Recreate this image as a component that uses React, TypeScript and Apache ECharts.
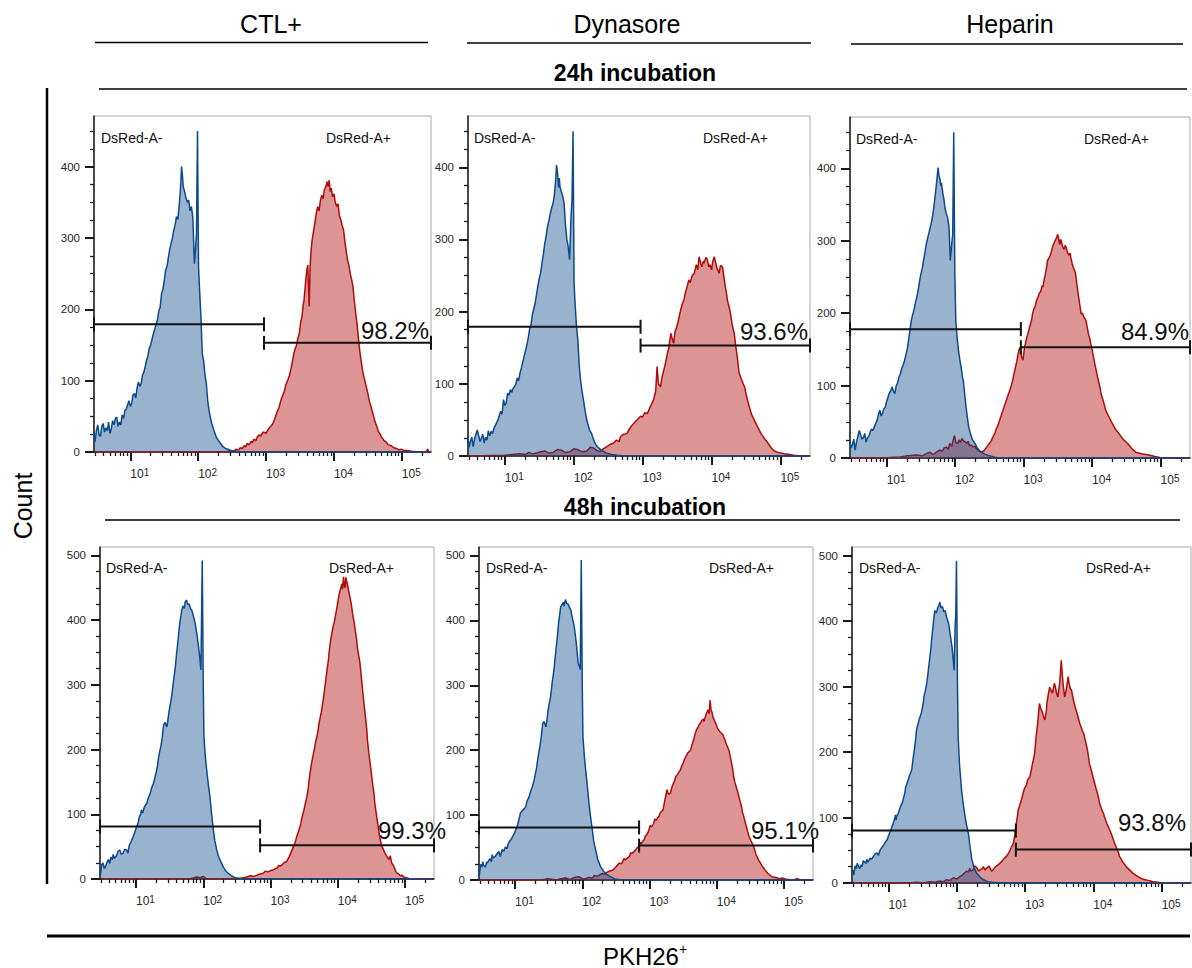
import React, { useEffect, useRef } from 'react';
import * as echarts from 'echarts';

const FONT = '"Liberation Sans", Arial, Helvetica, sans-serif';

// ---------- texts ----------
const COLUMN_TITLES = ['CTL+', 'Dynasore', 'Heparin'];
const ROW_TITLES = ['24h incubation', '48h incubation'];
const NEG_GATE_NAME = 'DsRed-A-';
const POS_GATE_NAME = 'DsRed-A+';
const Y_TITLE = 'Count';
const X_TITLE_MAIN = 'PKH26';
const X_TITLE_SUP = '+';
const PCT_LABELS = ['98.2%', '93.6%', '84.9%', '99.3%', '95.1%', '93.8%'];

// ---------- axes (x in log10 of DsRed-A intensity) ----------
const X_MIN = 0.465;
const X_MAX = 5.43;
const X_MAJOR_EXP = [1, 2, 3, 4, 5];
const X_MINOR_MULT = [2, 3, 4, 5, 6, 7, 8, 9];
const X_DECADES = [0, 1, 2, 3, 4, 5];
const Y_MAX_24 = 471;
const Y_MAX_48 = 513;
const Y_MAJOR_24 = [0, 100, 200, 300, 400];
const Y_MINOR_24 = [25, 50, 75, 125, 150, 175, 225, 250, 275, 325, 350, 375, 425, 450];
const Y_MAJOR_48 = [0, 100, 200, 300, 400, 500];
const Y_MINOR_48 = [25, 50, 75, 125, 150, 175, 225, 250, 275, 325, 350, 375, 425, 450, 475];

// ---------- histograms: [log10 intensity, count] ----------
// 24h CTL+
const CTL24_NEG = [[0.465,26],[0.48,14],[0.50,30],[0.52,38],[0.54,24],[0.56,22],[0.58,36],[0.60,40],[0.62,28],[0.64,34],[0.66,30],[0.68,42],[0.70,26],[0.72,33],[0.74,44],[0.76,38],[0.78,47],[0.80,49],[0.82,36],[0.84,42],[0.86,38],[0.88,52],[0.90,47],[0.92,58],[0.94,60],[0.96,66],[0.98,72],[1.00,64],[1.02,68],[1.04,80],[1.06,82],[1.08,76],[1.10,90],[1.12,98],[1.14,92],[1.16,96],[1.18,108],[1.20,112],[1.22,120],[1.24,129],[1.26,135],[1.28,146],[1.30,150],[1.32,158],[1.34,166],[1.36,172],[1.38,180],[1.40,185],[1.42,198],[1.44,203],[1.46,222],[1.48,228],[1.50,240],[1.52,255],[1.54,260],[1.56,272],[1.58,284],[1.60,292],[1.62,300],[1.64,311],[1.66,318],[1.68,330],[1.70,326],[1.72,345],[1.74,370],[1.755,400],[1.77,385],[1.78,372],[1.80,365],[1.82,356],[1.84,350],[1.86,353],[1.88,338],[1.90,344],[1.92,330],[1.945,264],[1.965,290],[1.975,306],[1.99,450],[2.005,260],[2.02,228],[2.04,190],[2.06,138],[2.08,128],[2.10,108],[2.12,96],[2.14,72],[2.16,58],[2.18,48],[2.20,40],[2.22,34],[2.24,28],[2.27,20],[2.30,16],[2.33,12],[2.36,8],[2.40,5],[2.44,4],[2.48,2],[2.55,1],[2.60,0],[5.43,0]];
const CTL24_POS = [[0.465,0],[2.40,0],[2.48,2],[2.52,1],[2.56,4],[2.60,3],[2.62,6],[2.65,5],[2.68,9],[2.70,7],[2.72,12],[2.75,10],[2.78,15],[2.80,13],[2.82,18],[2.85,16],[2.87,21],[2.90,24],[2.92,22],[2.95,27],[2.97,28],[3.00,26],[3.02,30],[3.05,34],[3.07,36],[3.10,40],[3.12,44],[3.14,50],[3.17,58],[3.19,62],[3.22,73],[3.24,78],[3.27,85],[3.29,94],[3.32,101],[3.34,106],[3.37,118],[3.39,128],[3.41,138],[3.43,145],[3.45,150],[3.47,160],[3.49,166],[3.51,182],[3.53,190],[3.545,205],[3.56,213],[3.58,236],[3.60,255],[3.615,262],[3.635,204],[3.65,262],[3.665,285],[3.68,298],[3.70,310],[3.72,322],[3.74,335],[3.76,344],[3.78,338],[3.80,352],[3.82,360],[3.84,355],[3.86,368],[3.88,372],[3.90,379],[3.915,372],[3.93,381],[3.945,365],[3.96,370],[3.98,358],[4.00,362],[4.02,350],[4.04,344],[4.06,348],[4.08,332],[4.10,326],[4.12,318],[4.14,312],[4.16,296],[4.18,282],[4.20,269],[4.22,262],[4.24,250],[4.26,242],[4.28,232],[4.30,212],[4.32,195],[4.34,180],[4.36,160],[4.38,142],[4.40,128],[4.42,115],[4.44,106],[4.46,98],[4.48,90],[4.50,82],[4.52,72],[4.55,62],[4.58,52],[4.60,44],[4.63,36],[4.65,30],[4.68,25],[4.70,21],[4.74,16],[4.77,14],[4.80,10],[4.84,9],[4.88,6],[4.92,5],[4.96,3],[4.99,4],[5.03,2],[5.08,2],[5.14,1],[5.25,0],[5.36,0],[5.38,4],[5.40,0],[5.43,0]];
// 24h Dynasore
const DYN24_NEG = [[0.465,27],[0.48,12],[0.50,20],[0.52,26],[0.54,13],[0.56,24],[0.58,30],[0.60,36],[0.62,28],[0.64,20],[0.66,25],[0.68,30],[0.70,18],[0.72,26],[0.74,22],[0.76,35],[0.78,28],[0.80,34],[0.82,31],[0.84,38],[0.86,42],[0.88,46],[0.90,50],[0.92,56],[0.94,62],[0.96,58],[0.98,78],[1.00,70],[1.02,74],[1.04,87],[1.06,84],[1.08,92],[1.10,88],[1.12,94],[1.14,96],[1.16,100],[1.18,108],[1.20,104],[1.22,115],[1.24,122],[1.26,130],[1.28,138],[1.30,146],[1.32,154],[1.34,164],[1.36,176],[1.38,182],[1.40,196],[1.42,204],[1.44,212],[1.46,224],[1.48,236],[1.50,246],[1.52,254],[1.54,268],[1.56,280],[1.58,295],[1.60,305],[1.62,318],[1.64,326],[1.66,336],[1.68,344],[1.70,350],[1.72,362],[1.74,385],[1.75,403],[1.765,392],[1.78,372],[1.79,385],[1.80,373],[1.82,366],[1.84,360],[1.86,350],[1.88,320],[1.90,300],[1.92,290],[1.94,272],[1.96,330],[1.975,355],[1.99,450],[2.005,240],[2.02,210],[2.04,180],[2.06,160],[2.08,125],[2.10,104],[2.12,90],[2.14,78],[2.16,66],[2.18,54],[2.20,46],[2.23,36],[2.26,31],[2.29,22],[2.32,16],[2.34,13],[2.40,8],[2.48,4],[2.55,2],[2.63,1],[2.75,0],[5.43,0]];
const DYN24_POS = [[0.465,0],[1.0,1],[1.10,2],[1.22,3],[1.30,2],[1.35,5],[1.40,3],[1.46,4],[1.52,6],[1.58,7],[1.64,4],[1.70,5],[1.76,9],[1.82,8],[1.88,5],[1.95,6],[2.00,10],[2.05,9],[2.12,6],[2.19,7],[2.24,12],[2.29,11],[2.33,8],[2.38,6],[2.43,10],[2.48,13],[2.53,16],[2.58,18],[2.62,22],[2.66,20],[2.68,27],[2.72,30],[2.77,31],[2.80,36],[2.84,42],[2.87,45],[2.90,48],[2.94,52],[2.97,55],[3.00,54],[3.03,60],[3.07,59],[3.10,66],[3.13,72],[3.16,78],[3.19,90],[3.21,124],[3.23,100],[3.26,96],[3.28,108],[3.31,120],[3.33,128],[3.36,142],[3.38,150],[3.41,170],[3.43,162],[3.45,156],[3.47,172],[3.50,180],[3.52,188],[3.53,193],[3.56,205],[3.58,212],[3.60,216],[3.62,226],[3.65,236],[3.67,244],[3.69,240],[3.72,250],[3.75,253],[3.77,262],[3.78,265],[3.80,258],[3.82,276],[3.84,268],[3.86,262],[3.88,270],[3.89,267],[3.92,275],[3.94,272],[3.96,262],[3.98,265],[4.00,258],[4.02,270],[4.04,276],[4.06,268],[4.08,260],[4.10,256],[4.11,253],[4.13,264],[4.16,262],[4.18,248],[4.20,235],[4.22,224],[4.23,216],[4.26,205],[4.28,195],[4.30,182],[4.33,170],[4.35,154],[4.37,140],[4.39,124],[4.40,115],[4.42,110],[4.44,105],[4.46,100],[4.48,96],[4.51,82],[4.55,68],[4.58,58],[4.62,50],[4.66,42],[4.72,31],[4.77,24],[4.82,18],[4.86,12],[4.91,7],[4.96,5],[5.06,3],[5.13,2],[5.20,1],[5.30,0],[5.43,0]];
// 24h Heparin
const HEP24_NEG = [[0.465,24],[0.48,14],[0.50,18],[0.52,26],[0.54,11],[0.56,22],[0.58,30],[0.60,38],[0.62,32],[0.64,26],[0.66,28],[0.68,34],[0.70,22],[0.72,28],[0.74,30],[0.76,36],[0.78,40],[0.80,38],[0.82,43],[0.84,48],[0.86,52],[0.88,60],[0.90,66],[0.92,58],[0.94,62],[0.96,68],[0.98,70],[1.00,78],[1.02,84],[1.04,90],[1.06,93],[1.08,98],[1.10,92],[1.12,89],[1.14,100],[1.16,104],[1.18,112],[1.20,116],[1.22,124],[1.24,128],[1.26,134],[1.28,142],[1.30,150],[1.32,162],[1.34,176],[1.36,190],[1.38,198],[1.40,205],[1.42,214],[1.44,222],[1.46,232],[1.48,244],[1.50,254],[1.52,262],[1.54,274],[1.56,284],[1.58,296],[1.60,304],[1.62,312],[1.64,320],[1.66,328],[1.68,340],[1.70,355],[1.72,372],[1.74,390],[1.75,401],[1.765,390],[1.78,385],[1.79,376],[1.80,380],[1.82,366],[1.84,355],[1.85,346],[1.87,338],[1.89,332],[1.91,320],[1.93,273],[1.95,295],[1.965,309],[1.98,450],[1.995,260],[2.01,190],[2.03,165],[2.05,148],[2.07,135],[2.09,124],[2.11,110],[2.12,107],[2.14,88],[2.16,70],[2.18,55],[2.20,42],[2.22,35],[2.25,26],[2.29,20],[2.33,13],[2.38,8],[2.44,5],[2.50,3],[2.58,1],[2.65,0],[5.43,0]];
const HEP24_POS = [[0.465,0],[0.95,0],[1.10,1],[1.19,1],[1.30,3],[1.44,4],[1.52,3],[1.58,6],[1.63,8],[1.67,5],[1.70,6],[1.74,9],[1.78,11],[1.81,9],[1.84,14],[1.87,15],[1.90,12],[1.92,20],[1.95,16],[1.97,24],[1.99,31],[2.01,22],[2.04,20],[2.06,25],[2.08,22],[2.10,27],[2.12,24],[2.15,22],[2.17,20],[2.19,23],[2.21,17],[2.24,18],[2.26,15],[2.29,16],[2.31,13],[2.34,10],[2.38,8],[2.42,10],[2.46,15],[2.50,20],[2.53,24],[2.55,29],[2.58,34],[2.60,40],[2.62,44],[2.65,52],[2.67,58],[2.70,66],[2.72,72],[2.75,80],[2.77,86],[2.80,94],[2.82,100],[2.84,107],[2.86,116],[2.88,125],[2.90,133],[2.92,144],[2.935,150],[2.95,153],[2.97,140],[2.99,135],[3.01,150],[3.03,160],[3.05,168],[3.06,171],[3.08,178],[3.10,185],[3.12,192],[3.13,199],[3.15,206],[3.17,210],[3.19,218],[3.21,222],[3.23,228],[3.25,230],[3.27,238],[3.28,236],[3.30,246],[3.32,255],[3.34,266],[3.35,273],[3.37,276],[3.39,280],[3.41,286],[3.42,291],[3.44,296],[3.46,300],[3.48,304],[3.50,309],[3.52,298],[3.53,295],[3.54,302],[3.55,300],[3.57,292],[3.59,288],[3.61,294],[3.62,291],[3.64,284],[3.66,280],[3.68,283],[3.69,277],[3.71,268],[3.73,262],[3.75,258],[3.76,254],[3.78,238],[3.80,225],[3.82,212],[3.84,199],[3.86,200],[3.88,195],[3.90,192],[3.91,190],[3.93,180],[3.95,170],[3.97,164],[3.98,158],[4.00,150],[4.02,140],[4.04,130],[4.06,121],[4.08,112],[4.10,104],[4.12,96],[4.13,89],[4.16,80],[4.20,66],[4.24,58],[4.30,47],[4.34,40],[4.39,34],[4.45,26],[4.52,20],[4.58,13],[4.64,8],[4.72,6],[4.83,4],[4.92,2],[5.02,0],[5.43,0]];
// 48h CTL+
const CTL48_NEG = [[0.465,14],[0.47,6],[0.49,22],[0.51,25],[0.53,16],[0.55,20],[0.57,26],[0.59,30],[0.61,24],[0.63,34],[0.65,30],[0.66,38],[0.68,32],[0.71,36],[0.73,42],[0.76,45],[0.78,38],[0.81,40],[0.83,46],[0.86,45],[0.88,40],[0.90,52],[0.92,56],[0.94,61],[0.96,66],[0.98,72],[1.00,78],[1.03,86],[1.05,96],[1.07,100],[1.08,107],[1.10,102],[1.12,110],[1.14,114],[1.16,117],[1.18,124],[1.21,132],[1.23,140],[1.26,148],[1.28,156],[1.30,165],[1.32,175],[1.33,184],[1.35,196],[1.37,205],[1.39,218],[1.41,238],[1.43,242],[1.46,235],[1.48,250],[1.49,258],[1.51,270],[1.53,282],[1.55,300],[1.58,323],[1.60,345],[1.63,374],[1.65,395],[1.68,415],[1.70,422],[1.72,418],[1.73,428],[1.75,431],[1.77,424],[1.79,425],[1.81,418],[1.83,415],[1.85,408],[1.88,395],[1.90,382],[1.93,359],[1.95,340],[1.965,323],[1.985,492],[2.00,300],[2.01,220],[2.03,190],[2.05,169],[2.08,142],[2.10,127],[2.12,104],[2.15,76],[2.17,60],[2.20,45],[2.23,34],[2.27,25],[2.30,18],[2.34,12],[2.37,9],[2.42,5],[2.47,2],[2.60,0],[5.43,0]];
const CTL48_POS = [[0.465,0],[1.80,0],[1.90,3],[1.95,2],[2.00,4],[2.05,0],[2.30,0],[2.55,1],[2.60,2],[2.65,3],[2.70,5],[2.75,4],[2.80,6],[2.82,7],[2.86,8],[2.89,9],[2.92,12],[2.96,11],[3.00,13],[3.04,14],[3.07,16],[3.10,17],[3.12,21],[3.14,20],[3.17,22],[3.19,24],[3.21,26],[3.24,27],[3.26,31],[3.28,35],[3.30,40],[3.32,45],[3.34,50],[3.36,55],[3.38,62],[3.39,66],[3.41,72],[3.43,78],[3.45,85],[3.46,91],[3.48,100],[3.50,108],[3.52,118],[3.54,127],[3.56,140],[3.57,150],[3.59,165],[3.61,179],[3.63,190],[3.65,200],[3.67,212],[3.69,220],[3.71,232],[3.72,240],[3.74,250],[3.76,261],[3.78,275],[3.80,290],[3.82,306],[3.84,323],[3.86,338],[3.87,350],[3.89,366],[3.91,379],[3.93,390],[3.95,398],[3.97,410],[3.98,415],[4.00,428],[4.02,440],[4.04,448],[4.06,456],[4.07,448],[4.085,467],[4.10,452],[4.11,450],[4.12,466],[4.13,461],[4.15,452],[4.16,445],[4.18,436],[4.20,425],[4.22,410],[4.24,398],[4.26,384],[4.28,370],[4.29,358],[4.31,346],[4.33,333],[4.35,312],[4.37,290],[4.39,270],[4.41,251],[4.43,232],[4.44,215],[4.46,196],[4.48,179],[4.50,162],[4.52,145],[4.54,130],[4.55,117],[4.57,102],[4.59,88],[4.61,74],[4.63,61],[4.65,52],[4.68,45],[4.70,40],[4.73,35],[4.76,30],[4.78,36],[4.80,25],[4.82,22],[4.84,18],[4.86,12],[4.88,9],[4.90,8],[4.93,5],[4.95,6],[4.98,3],[5.02,2],[5.07,0],[5.43,0]];
// 48h Dynasore
const DYN48_NEG = [[0.455,15],[0.47,8],[0.49,24],[0.51,20],[0.52,28],[0.54,22],[0.56,20],[0.58,28],[0.59,26],[0.61,30],[0.63,33],[0.65,28],[0.66,39],[0.68,34],[0.71,37],[0.73,40],[0.76,44],[0.78,36],[0.81,47],[0.83,44],[0.86,51],[0.88,48],[0.90,56],[0.92,60],[0.94,62],[0.96,66],[0.98,70],[1.00,74],[1.01,77],[1.03,82],[1.05,90],[1.07,98],[1.08,103],[1.10,106],[1.12,108],[1.14,110],[1.16,113],[1.18,122],[1.21,128],[1.23,136],[1.26,144],[1.28,152],[1.30,162],[1.32,172],[1.33,180],[1.35,194],[1.37,206],[1.39,220],[1.41,240],[1.43,244],[1.46,236],[1.48,250],[1.49,260],[1.51,272],[1.53,283],[1.55,302],[1.58,324],[1.60,346],[1.63,375],[1.65,398],[1.68,421],[1.70,424],[1.72,428],[1.73,422],[1.75,432],[1.77,426],[1.79,425],[1.81,420],[1.83,416],[1.85,405],[1.88,391],[1.91,366],[1.94,334],[1.96,328],[1.97,324],[1.985,493],[2.00,300],[2.01,221],[2.03,192],[2.05,170],[2.08,140],[2.10,118],[2.12,100],[2.15,77],[2.17,60],[2.20,46],[2.23,32],[2.27,21],[2.32,13],[2.37,8],[2.44,4],[2.50,1],[2.62,0],[5.43,0]];
const DYN48_POS = [[0.455,0],[1.40,0],[1.48,2],[1.55,1],[1.62,0],[1.68,2],[1.75,3],[1.82,1],[1.88,4],[1.95,5],[2.00,2],[2.05,2],[2.10,4],[2.15,3],[2.18,7],[2.22,6],[2.26,8],[2.30,10],[2.34,9],[2.37,12],[2.41,14],[2.45,15],[2.48,18],[2.50,20],[2.53,24],[2.55,26],[2.58,25],[2.60,28],[2.62,33],[2.64,31],[2.67,34],[2.70,36],[2.72,42],[2.74,41],[2.77,44],[2.79,46],[2.82,50],[2.84,51],[2.86,58],[2.88,56],[2.90,60],[2.92,62],[2.94,68],[2.96,70],[2.98,74],[2.99,77],[3.01,84],[3.03,82],[3.05,85],[3.06,87],[3.08,94],[3.10,92],[3.12,96],[3.14,98],[3.16,104],[3.18,106],[3.20,108],[3.21,113],[3.23,124],[3.26,139],[3.28,132],[3.31,134],[3.33,142],[3.35,148],[3.37,152],[3.39,159],[3.41,162],[3.43,165],[3.45,168],[3.46,170],[3.48,176],[3.50,180],[3.52,186],[3.54,190],[3.56,194],[3.57,196],[3.59,198],[3.61,200],[3.63,208],[3.65,214],[3.67,222],[3.68,226],[3.70,232],[3.72,235],[3.74,240],[3.76,242],[3.78,246],[3.80,248],[3.81,244],[3.83,252],[3.85,258],[3.87,262],[3.885,256],[3.90,277],[3.915,262],[3.93,258],[3.945,250],[3.96,247],[3.98,242],[3.99,240],[4.01,234],[4.03,231],[4.05,228],[4.07,226],[4.09,224],[4.10,221],[4.12,216],[4.14,210],[4.16,205],[4.18,200],[4.20,190],[4.22,180],[4.24,168],[4.25,159],[4.27,150],[4.29,143],[4.31,136],[4.33,128],[4.35,120],[4.37,112],[4.38,105],[4.40,98],[4.42,90],[4.44,82],[4.46,74],[4.48,67],[4.51,60],[4.55,51],[4.58,40],[4.62,31],[4.65,26],[4.67,22],[4.70,18],[4.72,15],[4.76,10],[4.82,5],[4.88,4],[4.93,2],[4.97,3],[5.04,1],[5.12,0],[5.20,2],[5.24,0],[5.43,0]];
// 48h Heparin
const HEP48_NEG = [[0.474,20],[0.49,12],[0.51,26],[0.53,22],[0.54,30],[0.56,26],[0.58,22],[0.60,28],[0.61,25],[0.63,34],[0.65,32],[0.67,30],[0.68,36],[0.70,32],[0.73,38],[0.75,36],[0.78,41],[0.80,44],[0.83,46],[0.85,42],[0.88,51],[0.90,54],[0.93,58],[0.95,62],[0.98,66],[1.00,72],[1.03,80],[1.05,86],[1.07,91],[1.09,98],[1.10,104],[1.11,96],[1.12,102],[1.14,106],[1.16,112],[1.18,118],[1.20,122],[1.22,130],[1.24,138],[1.25,146],[1.27,152],[1.29,158],[1.31,165],[1.33,170],[1.34,173],[1.36,190],[1.38,205],[1.40,222],[1.41,234],[1.43,242],[1.45,250],[1.47,256],[1.49,264],[1.51,276],[1.52,285],[1.54,294],[1.56,305],[1.58,322],[1.60,340],[1.62,358],[1.63,371],[1.65,390],[1.66,400],[1.67,410],[1.68,416],[1.70,412],[1.72,420],[1.74,424],[1.75,429],[1.77,420],[1.79,422],[1.81,414],[1.83,416],[1.85,406],[1.88,396],[1.90,382],[1.93,360],[1.95,338],[1.96,325],[1.975,390],[1.985,411],[1.995,492],[2.01,300],[2.02,223],[2.04,180],[2.07,142],[2.09,124],[2.12,102],[2.14,90],[2.17,76],[2.19,58],[2.22,36],[2.25,24],[2.29,15],[2.34,9],[2.39,5],[2.45,2],[2.51,1],[2.65,0],[5.43,0]];
const HEP48_POS = [[0.474,0],[1.30,0],[1.41,1],[1.50,0],[1.60,2],[1.68,1],[1.75,3],[1.80,2],[1.85,5],[1.90,4],[1.95,8],[2.00,6],[2.05,10],[2.08,12],[2.10,14],[2.12,16],[2.14,18],[2.17,17],[2.19,22],[2.21,18],[2.24,20],[2.26,26],[2.29,24],[2.32,18],[2.34,20],[2.37,22],[2.39,25],[2.41,20],[2.44,23],[2.47,26],[2.49,22],[2.51,18],[2.53,20],[2.56,24],[2.58,26],[2.61,28],[2.63,30],[2.66,33],[2.68,36],[2.70,38],[2.73,41],[2.76,46],[2.78,50],[2.80,55],[2.83,61],[2.85,74],[2.87,90],[2.89,104],[2.90,112],[2.92,118],[2.94,125],[2.96,132],[2.97,137],[2.99,144],[3.02,150],[3.04,158],[3.07,162],[3.09,172],[3.10,178],[3.12,188],[3.14,198],[3.16,222],[3.18,240],[3.20,262],[3.21,274],[3.23,266],[3.25,262],[3.27,254],[3.29,249],[3.31,262],[3.32,275],[3.34,288],[3.36,299],[3.38,294],[3.40,290],[3.42,300],[3.43,305],[3.45,296],[3.46,290],[3.48,284],[3.50,300],[3.51,310],[3.53,340],[3.545,318],[3.56,300],[3.58,284],[3.60,294],[3.61,300],[3.63,315],[3.645,304],[3.66,298],[3.68,294],[3.70,284],[3.72,274],[3.74,266],[3.76,260],[3.78,252],[3.80,244],[3.82,238],[3.84,232],[3.86,228],[3.87,223],[3.89,214],[3.91,205],[3.93,192],[3.94,183],[3.96,176],[3.98,168],[4.00,160],[4.02,152],[4.04,144],[4.06,137],[4.08,128],[4.09,122],[4.11,116],[4.13,110],[4.15,106],[4.16,102],[4.18,96],[4.20,90],[4.22,86],[4.24,81],[4.26,76],[4.28,70],[4.30,64],[4.31,61],[4.33,56],[4.35,50],[4.37,46],[4.38,41],[4.41,36],[4.43,32],[4.46,28],[4.48,25],[4.51,22],[4.53,20],[4.56,17],[4.58,15],[4.62,12],[4.65,10],[4.68,8],[4.72,6],[4.76,5],[4.80,4],[4.84,3],[4.87,2],[4.95,1],[5.02,0],[5.43,0]];

// ---------- gates: [from log10, to log10, height] ----------
const GATES_CTL24 = [[0.465, 2.97, 179], [2.97, 5.43, 153]];
const GATES_DYN24 = [[0.465, 2.97, 179], [2.97, 5.43, 153]];
const GATES_HEP24 = [[0.465, 2.96, 178], [2.96, 5.43, 153]];
const GATES_CTL48 = [[0.465, 2.845, 81], [2.845, 5.43, 52]];
const GATES_DYN48 = [[0.465, 2.845, 81], [2.845, 5.43, 53]];
const GATES_HEP48 = [[0.465, 2.865, 80], [2.865, 5.43, 51]];

// ---------- colours ----------
const BLUE = '#0c4a8b';
const BLUE_FILL = 'rgba(12,74,139,0.42)';
const RED = '#b00c0c';
const RED_FILL = 'rgba(176,12,12,0.44)';
const INK = '#111111';
const AXIS_INK = '#1a1a1a';
const LABEL_INK = '#262626';

// ---------- layout ----------
const PANELS = [
  { left: 94, top: 116, width: 337, height: 336, ymax: Y_MAX_24, yMajor: Y_MAJOR_24, yMinor: Y_MINOR_24, neg: CTL24_NEG, pos: CTL24_POS, gates: GATES_CTL24, pct: PCT_LABELS[0], pctDx: -2, pctDy: 0, negDx: 7, posDx: 232, nameDy: 22 },
  { left: 468, top: 116, width: 342, height: 340, ymax: Y_MAX_24, yMajor: Y_MAJOR_24, yMinor: Y_MINOR_24, neg: DYN24_NEG, pos: DYN24_POS, gates: GATES_DYN24, pct: PCT_LABELS[1], pctDx: -2, pctDy: -2, negDx: 6, posDx: 235, nameDy: 22 },
  { left: 850, top: 117, width: 340, height: 341, ymax: Y_MAX_24, yMajor: Y_MAJOR_24, yMinor: Y_MINOR_24, neg: HEP24_NEG, pos: HEP24_POS, gates: GATES_HEP24, pct: PCT_LABELS[2], pctDx: -1, pctDy: -4, negDx: 6, posDx: 234, nameDy: 22 },
  { left: 100, top: 547, width: 334, height: 332, ymax: Y_MAX_48, yMajor: Y_MAJOR_48, yMinor: Y_MINOR_48, neg: CTL48_NEG, pos: CTL48_POS, gates: GATES_CTL48, pct: PCT_LABELS[3], pctDx: 12, pctDy: -3, negDx: 6, posDx: 229, nameDy: 21 },
  { left: 479, top: 547, width: 334, height: 333, ymax: Y_MAX_48, yMajor: Y_MAJOR_48, yMinor: Y_MINOR_48, neg: DYN48_NEG, pos: DYN48_POS, gates: GATES_DYN48, pct: PCT_LABELS[4], pctDx: 6, pctDy: -3, negDx: 7, posDx: 230, nameDy: 21 },
  { left: 852, top: 547, width: 339, height: 336, ymax: Y_MAX_48, yMajor: Y_MAJOR_48, yMinor: Y_MINOR_48, neg: HEP48_NEG, pos: HEP48_POS, gates: GATES_HEP48, pct: PCT_LABELS[5], pctDx: -5, pctDy: -15, negDx: 7, posDx: 234, nameDy: 21 },
];

const X_MINOR_TICKS: number[] = [];
X_DECADES.forEach((d) => X_MINOR_MULT.forEach((m) => {
  const v = d + Math.log10(m);
  if (v >= X_MIN && v <= X_MAX) X_MINOR_TICKS.push(v);
}));

function gateRenderer(label: string, dx: number, dy: number) {
  return (params: any, api: any) => {
    const x1 = api.value(0);
    const x2 = api.value(1);
    const y = api.value(2);
    const a = api.coord([x1, y]);
    const b = api.coord([x2, y]);
    const st = { stroke: INK, lineWidth: 2 };
    const children: any[] = [
      { type: 'line', shape: { x1: a[0], y1: a[1], x2: b[0], y2: b[1] }, style: st },
      { type: 'line', shape: { x1: a[0], y1: a[1] - 7, x2: a[0], y2: a[1] + 7 }, style: st },
      { type: 'line', shape: { x1: b[0], y1: b[1] - 7, x2: b[0], y2: b[1] + 7 }, style: st },
    ];
    if (params.dataIndex === 1) {
      children.push({
        type: 'text', x: b[0] + dx, y: b[1] + dy,
        style: { text: label, fontSize: 24, fontFamily: FONT, fill: INK, align: 'right', verticalAlign: 'bottom' },
      });
    }
    return { type: 'group', children };
  };
}

function buildOption() {
  const grid: any[] = [];
  const xAxis: any[] = [];
  const yAxis: any[] = [];
  const series: any[] = [];
  const graphic: any[] = [];

  PANELS.forEach((p, i) => {
    grid.push({ left: p.left, top: p.top, width: p.width, height: p.height, show: true, borderColor: '#a9a9a9', borderWidth: 1, backgroundColor: 'rgba(0,0,0,0)' });
    xAxis.push({
      type: 'value', gridIndex: i, min: X_MIN, max: X_MAX, position: 'bottom',
      axisLine: { show: true, onZero: false, lineStyle: { color: AXIS_INK, width: 1.5 } },
      axisTick: { show: true, length: 9, customValues: X_MAJOR_EXP, lineStyle: { color: AXIS_INK, width: 2 } },
      axisLabel: {
        show: true, customValues: X_MAJOR_EXP, margin: 15, align: 'left',
        formatter: (v: number) => `{b|10}{s|${Math.round(v)}}`,
        rich: {
          b: { fontSize: 12, fontFamily: FONT, color: LABEL_INK, lineHeight: 13, padding: [7, 0, 0, 0], verticalAlign: 'bottom' },
          s: { fontSize: 10, fontFamily: FONT, color: LABEL_INK, lineHeight: 11, verticalAlign: 'top' },
        },
      },
      splitLine: { show: false },
    });
    xAxis.push({
      type: 'value', gridIndex: i, min: X_MIN, max: X_MAX, position: 'bottom',
      axisLine: { show: false, onZero: false },
      axisTick: { show: true, length: 4, customValues: X_MINOR_TICKS, lineStyle: { color: AXIS_INK, width: 1.3 } },
      axisLabel: { show: false },
      splitLine: { show: false },
    });
    yAxis.push({
      type: 'value', gridIndex: i, min: 0, max: p.ymax, position: 'left',
      axisLine: { show: true, onZero: false, lineStyle: { color: AXIS_INK, width: 1.5 } },
      axisTick: { show: true, length: 9, customValues: p.yMajor, lineStyle: { color: AXIS_INK, width: 2 } },
      axisLabel: { show: true, customValues: p.yMajor, margin: 14, fontSize: 11.5, fontFamily: FONT, color: LABEL_INK },
      splitLine: { show: false },
    });
    yAxis.push({
      type: 'value', gridIndex: i, min: 0, max: p.ymax, position: 'left',
      axisLine: { show: false, onZero: false },
      axisTick: { show: true, length: 4, customValues: p.yMinor, lineStyle: { color: AXIS_INK, width: 1.3 } },
      axisLabel: { show: false },
      splitLine: { show: false },
    });

    const xi = 2 * i;
    const yi = 2 * i;
    series.push({
      type: 'line', xAxisIndex: xi, yAxisIndex: yi, data: p.pos, symbol: 'none', z: 2, silent: true,
      lineStyle: { color: RED, width: 1.5 }, itemStyle: { color: RED }, areaStyle: { color: RED_FILL, opacity: 1 },
    });
    series.push({
      type: 'line', xAxisIndex: xi, yAxisIndex: yi, data: p.neg, symbol: 'none', z: 3, silent: true,
      lineStyle: { color: BLUE, width: 1.5 }, itemStyle: { color: BLUE }, areaStyle: { color: BLUE_FILL, opacity: 1 },
    });
    series.push({
      type: 'custom', xAxisIndex: xi, yAxisIndex: yi, data: p.gates, z: 5, silent: true,
      encode: { x: [0, 1], y: 2 },
      renderItem: gateRenderer(p.pct, p.pctDx, p.pctDy),
    });

    graphic.push({ type: 'text', x: p.left + p.negDx, y: p.top + p.nameDy, style: { text: NEG_GATE_NAME, fontSize: 14, fontFamily: FONT, fill: INK, align: 'left', verticalAlign: 'middle' } });
    graphic.push({ type: 'text', x: p.left + p.posDx, y: p.top + p.nameDy, style: { text: POS_GATE_NAME, fontSize: 14, fontFamily: FONT, fill: INK, align: 'left', verticalAlign: 'middle' } });
  });

  const line = (x1: number, y1: number, x2: number, y2: number, w: number) => ({
    type: 'line', shape: { x1, y1, x2, y2 }, style: { stroke: '#000', lineWidth: w },
  });
  const titleX = [271, 627, 1010];
  COLUMN_TITLES.forEach((t, k) => {
    graphic.push({ type: 'text', x: titleX[k], y: 24, style: { text: t, fontSize: 25, fontFamily: FONT, fill: '#000', align: 'center', verticalAlign: 'middle' } });
  });
  graphic.push(line(95, 42.5, 428, 42.5, 1.3));
  graphic.push(line(467, 43, 811, 43, 1.3));
  graphic.push(line(851, 44, 1183, 44, 1.3));
  graphic.push({ type: 'text', x: 635, y: 73, style: { text: ROW_TITLES[0], fontSize: 23, fontWeight: 'bold', fontFamily: FONT, fill: '#000', align: 'center', verticalAlign: 'middle' } });
  graphic.push(line(99, 89, 1187, 89, 1.3));
  graphic.push({ type: 'text', x: 645, y: 507, style: { text: ROW_TITLES[1], fontSize: 23, fontWeight: 'bold', fontFamily: FONT, fill: '#000', align: 'center', verticalAlign: 'middle' } });
  graphic.push(line(105, 520, 1180, 520, 1.3));
  graphic.push(line(47, 88, 47, 884, 2.5));
  graphic.push(line(47, 936, 1190, 936, 3));
  graphic.push({ type: 'text', x: 23, y: 506, rotation: Math.PI / 2, style: { text: Y_TITLE, fontSize: 25, fontFamily: FONT, fill: '#000', align: 'center', verticalAlign: 'middle' } });
  graphic.push({
    type: 'text', x: 645, y: 955,
    style: {
      text: `{a|${X_TITLE_MAIN}}{s|${X_TITLE_SUP}}`, align: 'center', verticalAlign: 'middle',
      rich: {
        a: { fontSize: 24, fontFamily: FONT, fill: '#000', color: '#000', lineHeight: 26, verticalAlign: 'bottom' },
        s: { fontSize: 14, fontFamily: FONT, fill: '#000', color: '#000', lineHeight: 16, verticalAlign: 'top' },
      },
    },
  });

  return { animation: false, backgroundColor: '#ffffff', grid, xAxis, yAxis, series, graphic };
}

export default function App() {
  const ref = useRef<HTMLDivElement>(null);
  useEffect(() => {
    document.body.style.margin = '0';
    if (!ref.current) return;
    const chart = echarts.init(ref.current, undefined, { renderer: 'svg' });
    chart.setOption(buildOption() as any);
    return () => chart.dispose();
  }, []);
  return <div ref={ref} style={{ width: 1192, height: 968 }} />;
}
